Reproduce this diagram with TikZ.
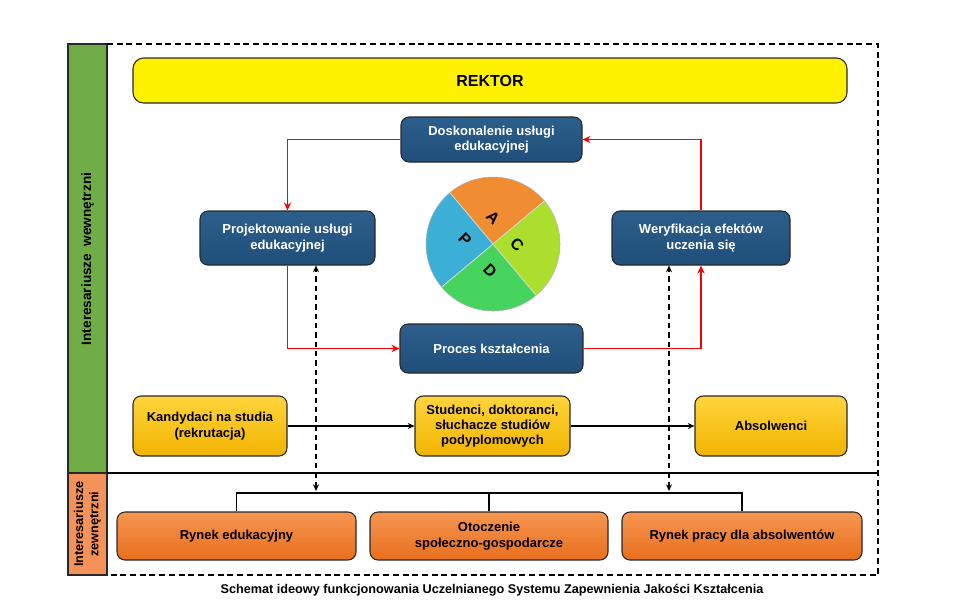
\documentclass[tikz,border=0pt]{standalone}
\usepackage{fontspec}
\setmainfont{Liberation Sans}
\usetikzlibrary{arrows.meta,positioning,calc}
\definecolor{boxblue}{RGB}{31,78,121}
\definecolor{boxblueT}{RGB}{45,95,140}
\definecolor{ylT}{RGB}{255,212,60}
\definecolor{ylB}{RGB}{240,180,0}
\definecolor{orT}{RGB}{246,150,80}
\definecolor{orB}{RGB}{232,110,30}
\definecolor{barGreen}{RGB}{112,173,71}
\definecolor{barOrange}{RGB}{244,146,90}
\definecolor{bordc}{RGB}{40,40,40}
\definecolor{pieA}{RGB}{240,140,50}
\definecolor{pieC}{RGB}{172,222,45}
\definecolor{pieD}{RGB}{70,212,95}
\definecolor{pieP}{RGB}{60,175,215}
\tikzset{
  basebox/.style={draw=bordc, line width=0.8pt, rounded corners=6pt, align=center, font=\bfseries\fontsize{9.75}{11.5}\selectfont, inner sep=2pt},
  bluebox/.style={basebox, top color=boxblueT, bottom color=boxblue, text=white},
  yellowbox/.style={basebox, top color=ylT, bottom color=ylB, text=black},
  orangebox/.style={basebox, top color=orT, bottom color=orB, text=black},
  redarrow/.style={draw=red, line width=1.4pt, -{Stealth[length=6pt,width=5.5pt]}},
  blackarrow/.style={draw=black, line width=1pt, -{Stealth[length=5pt,width=4.5pt]}},
  dasharrow/.style={draw=black, line width=1pt, dash pattern=on 4pt off 3pt, {Stealth[length=5pt,width=4.5pt]}-{Stealth[length=5pt,width=4.5pt]}},
  pieletter/.style={font=\bfseries\fontsize{12}{12}\selectfont, rotate=-45, inner sep=0pt}
}
\begin{document}
\begin{tikzpicture}[x=0.75pt,y=-0.75pt]
\useasboundingbox (0,0) rectangle (960,612);
% side bars
\draw[fill=barGreen, draw=bordc, line width=0.8pt] (68,44) rectangle (107,473);
\draw[fill=barOrange, draw=bordc, line width=0.8pt] (68,473) rectangle (107,575);
\node[rotate=90, font=\bfseries\fontsize{10.2}{12}\selectfont] (sideIn) at (87.5,259) {Interesariusze\ \ wewnętrzni};
\node[rotate=90, align=center, font=\bfseries\fontsize{9.5}{11.5}\selectfont] (sideOut) at (87.5,524) {Interesariusze\\zewnętrzni};
% frame
\draw[line width=1.1pt, dash pattern=on 4.5pt off 2.8pt] (107,44) -- (878,44) -- (878,575) -- (107,575);
\draw[line width=1.1pt] (107,473) -- (878,473);
% boxes
\node[basebox, fill=yellow, minimum width=535.5pt, minimum height=33.75pt, font=\bfseries\fontsize{12}{14}\selectfont, rounded corners=8pt] (rektor) at (490,80.5) {REKTOR};
\node[bluebox, minimum width=135.75pt, minimum height=33.75pt] (dosk) at (491.5,139.5) {Doskonalenie usługi\\edukacyjnej};
\node[bluebox, minimum width=131.25pt, minimum height=40.5pt] (proj) at (287.5,238) {Projektowanie usługi\\edukacyjnej};
\node[bluebox, minimum width=133.5pt, minimum height=40.5pt] (wery) at (701,238) {Weryfikacja efektów\\uczenia się};
\node[bluebox, minimum width=137.25pt, minimum height=36.75pt] (proces) at (491.5,348.5) {Proces kształcenia};
\node[yellowbox, minimum width=115.5pt, minimum height=45pt] (kand) at (210,426) {Kandydaci na studia\\(rekrutacja)};
\node[yellowbox, minimum width=116.25pt, minimum height=45pt] (stud) at (492.5,426) {Studenci, doktoranci,\\słuchacze studiów\\podyplomowych};
\node[yellowbox, minimum width=114pt, minimum height=45pt] (absol) at (771,426) {Absolwenci};
\node[orangebox, minimum width=179.25pt, minimum height=36pt] (rynedu) at (236.5,536) {Rynek edukacyjny};
\node[orangebox, minimum width=178.5pt, minimum height=36pt] (otocz) at (489,536) {Otoczenie\\społeczno-gospodarcze};
\node[orangebox, minimum width=180pt, minimum height=36pt] (rynpr) at (742,536) {Rynek pracy dla absolwentów};
% PDCA circle
\begin{scope}[shift={(493,244)}, y=0.75pt]
  \fill[pieA] (0,0) -- (40:67) arc[start angle=40, end angle=130, radius=67] -- cycle;
  \fill[pieP] (0,0) -- (130:67) arc[start angle=130, end angle=220, radius=67] -- cycle;
  \fill[pieD] (0,0) -- (220:67) arc[start angle=220, end angle=310, radius=67] -- cycle;
  \fill[pieC] (0,0) -- (310:67) arc[start angle=310, end angle=400, radius=67] -- cycle;
  \draw[white!85!black, line width=0.6pt] (40:67) -- (220:67);
  \draw[white!85!black, line width=0.6pt] (130:67) -- (310:67);
  \draw[gray!60, line width=0.4pt] (0,0) circle[radius=67];
  \node[pieletter] (lA) at (0,26) {A};
  \node[pieletter] (lC) at (24,-1) {C};
  \node[pieletter] (lD) at (-3,-27) {D};
  \node[pieletter] (lP) at (-28,5) {P};
\end{scope}
% red cycle
\draw[redarrow] (dosk.west) -| (proj.north);
\draw[redarrow] (proj.south) |- (proces.west);
\draw[redarrow] (proces.east) -| (wery.south);
\draw[redarrow] (wery.north) |- (dosk.east);
% black flow
\draw[blackarrow] (kand.east) -- (stud.west);
\draw[blackarrow] (stud.east) -- (absol.west);
% bracket to external
\coordinate (br) at (489,493);
\draw[line width=1pt] (rynedu.north) |- (br) -| (rynpr.north);
\draw[line width=1pt] (otocz.north) -- (br);
% dashed double arrows
\coordinate (dL) at (316,491);
\coordinate (dR) at (669,491);
\draw[dasharrow] (dL) -- (dL |- proj.south);
\draw[dasharrow] (dR) -- (dR |- wery.south);
% caption
\node[font=\bfseries\fontsize{9.5}{11}\selectfont] (caption) at (492,590) {Schemat ideowy funkcjonowania Uczelnianego Systemu Zapewnienia Jakości Kształcenia};
\end{tikzpicture}
\end{document}
